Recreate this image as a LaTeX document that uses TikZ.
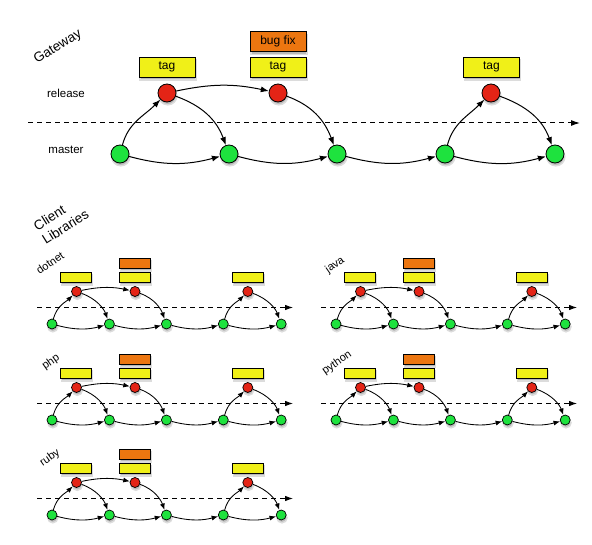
\documentclass[tikz,border=0pt]{standalone}
\usepackage{fontspec}
\setmainfont{Liberation Sans}
\usetikzlibrary{arrows.meta}
\definecolor{cred}{RGB}{228,36,22}
\definecolor{cgreen}{RGB}{30,226,62}
\definecolor{cyel}{RGB}{240,240,24}
\definecolor{corange}{RGB}{236,118,16}
\definecolor{cshadow}{RGB}{185,185,185}
\tikzset{
  shd/.style={preaction={fill=cshadow,draw=cshadow!50!white,line width=1.5pt,transform canvas={xshift=0.8pt,yshift=-2.8pt}}},
  bigred/.style={circle,draw=black,line width=0.8pt,fill=cred,minimum size=18pt,inner sep=0pt,shd},
  biggreen/.style={bigred,fill=cgreen},
  smallred/.style={circle,draw=black,line width=0.7pt,fill=cred,minimum size=10pt,inner sep=0pt,shd},
  smallgreen/.style={smallred,fill=cgreen},
  bigtag/.style={draw=black,line width=0.8pt,fill=cyel,minimum width=56pt,minimum height=20pt,inner sep=0pt,font=\fontsize{12}{14}\selectfont,shd},
  bigfix/.style={bigtag,fill=corange},
  smalltag/.style={draw=black,line width=0.7pt,fill=cyel,minimum width=31pt,minimum height=10pt,inner sep=0pt,shd},
  smallfix/.style={smalltag,fill=corange},
  bflow/.style={draw=black,line width=1pt,-{Latex[length=8pt,width=6pt]}},
  sflow/.style={draw=black,line width=0.85pt,-{Latex[length=6.5pt,width=5pt]}},
  bdash/.style={draw=black,line width=1pt,dash pattern=on 5pt off 4pt,-{Latex[length=9pt,width=6pt]}},
  sdash/.style={draw=black,line width=0.85pt,dash pattern=on 5pt off 4pt,-{Latex[length=8pt,width=5.5pt]}},
  sagto/.style={out=-15,in=195},
  arcto/.style={out=12,in=168},
  upto/.style={out=75,in=225},
  downto/.style={out=-20,in=110},
  lbl/.style={font=\fontsize{11.5}{13}\selectfont},
  biglbl/.style={font=\fontsize{13.5}{16}\selectfont,rotate=32,align=left},
  smalllbl/.style={font=\fontsize{11}{13}\selectfont,rotate=35},
  libflow/.pic={
    \coordinate (-ds) at (-15,16.5);
    \coordinate (-de) at (241,16.5);
    \draw[sdash] (-ds) -- (-de);
    \node[smallgreen] (-g1) at (0,0) {};
    \node[smallgreen] (-g2) at (57.4,0) {};
    \node[smallgreen] (-g3) at (114.4,0) {};
    \node[smallgreen] (-g4) at (171.3,0) {};
    \node[smallgreen] (-g5) at (229.2,0) {};
    \node[smallred] (-r1) at (24.5,32.5) {};
    \node[smallred] (-r2) at (83,32.5) {};
    \node[smallred] (-r3) at (195.8,32.5) {};
    \node[smalltag] (-t1) at (24,47) {};
    \node[smalltag] (-t2) at (83,47) {};
    \node[smallfix] (-b2) at (83,61) {};
    \node[smalltag] (-t3) at (196,47) {};
    \draw[sflow] (-g1) to[upto] (-r1);
    \draw[sflow] (-g1) to[sagto] (-g2);
    \draw[sflow] (-r1) to[arcto] (-r2);
    \draw[sflow] (-r1) to[downto] (-g2);
    \draw[sflow] (-g2) to[sagto] (-g3);
    \draw[sflow] (-r2) to[downto] (-g3);
    \draw[sflow] (-g3) to[sagto] (-g4);
    \draw[sflow] (-g4) to[upto] (-r3);
    \draw[sflow] (-g4) to[sagto] (-g5);
    \draw[sflow] (-r3) to[downto] (-g5);
  }
}
\begin{document}
\begin{tikzpicture}[x=1pt,y=1pt]
\useasboundingbox (0,0) rectangle (592,544);
% Gateway
\node[biglbl] (gw) at (58,497) {Gateway};
\node[lbl] (rel) at (66,451) {release};
\node[lbl] (mas) at (66,394) {master};
\coordinate (ds) at (28,421);
\coordinate (de) at (580,421);
\draw[bdash] (ds) -- (de);
\node[biggreen] (g1) at (120,390) {};
\node[biggreen] (g2) at (229,390) {};
\node[biggreen] (g3) at (337,390) {};
\node[biggreen] (g4) at (445,390) {};
\node[biggreen] (g5) at (555,390) {};
\node[bigred] (r1) at (167,451) {};
\node[bigred] (r2) at (278,451) {};
\node[bigred] (r3) at (491,451) {};
\node[bigtag] (t1) at (167,477) {tag};
\node[bigtag] (t2) at (278,477) {tag};
\node[bigfix] (b2) at (278,502.5) {bug fix};
\node[bigtag] (t3) at (491.5,477) {tag};
\draw[bflow] (g1) to[upto] (r1);
\draw[bflow] (g1) to[sagto] (g2);
\draw[bflow] (r1) to[arcto] (r2);
\draw[bflow] (r1) to[downto] (g2);
\draw[bflow] (g2) to[sagto] (g3);
\draw[bflow] (r2) to[downto] (g3);
\draw[bflow] (g3) to[sagto] (g4);
\draw[bflow] (g4) to[upto] (r3);
\draw[bflow] (g4) to[sagto] (g5);
\draw[bflow] (r3) to[downto] (g5);
% Client libraries
\node[biglbl] (cl) at (61,324) {Client\\Libraries};
\node[smalllbl] (ldn) at (50,281) {dotnet};
\node[smalllbl] (lja) at (335,279) {java};
\node[smalllbl] (lph) at (51,182) {php};
\node[smalllbl] (lpy) at (337,181) {python};
\node[smalllbl] (lru) at (50,86) {ruby};
\pic (dn) at (52,220) {libflow};
\pic (ja) at (336,220) {libflow};
\pic (ph) at (52,124) {libflow};
\pic (py) at (336,124) {libflow};
\pic (ru) at (52,29) {libflow};
\end{tikzpicture}
\end{document}
